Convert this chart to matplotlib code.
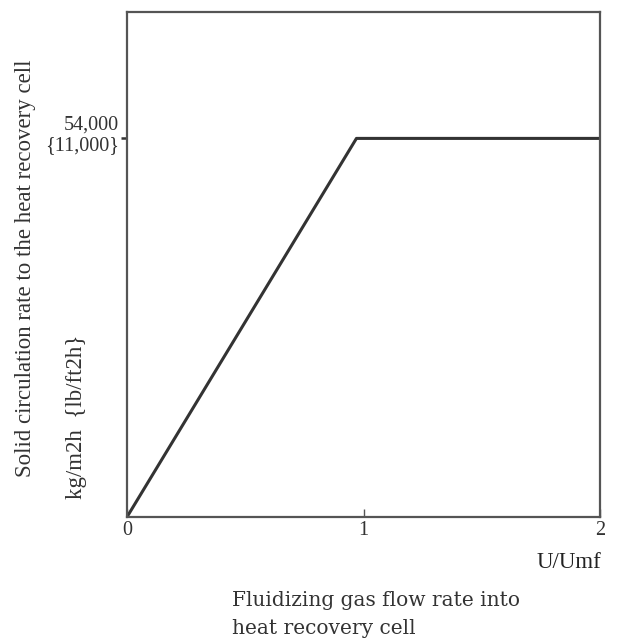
import matplotlib
matplotlib.use("Agg")
import matplotlib.pyplot as plt
from matplotlib.transforms import ScaledTranslation

flow_ratio = [0, 0.97, 2.0]
circulation = [0, 54000, 54000]
x_ticks = [0, 1, 2]
x_tick_labels = ["0", "1", "2"]
y_ticks = [54000]
y_tick_labels = ["54,000\n{11,000}"]

serif = ["Liberation Serif", "DejaVu Serif"]

fig = plt.figure(figsize=(6.35, 6.43), dpi=100)
ax = fig.add_axes([0.2, 0.196, 0.745, 0.785])
ax.plot(flow_ratio, circulation, color="#333333", lw=2.2, solid_capstyle="butt")
ax.set_xlim(0, 2)
ax.set_ylim(0, 72000)
for s in ax.spines.values():
    s.set_color("#555555")
    s.set_linewidth(1.6)

ax.set_xticks(x_ticks)
ax.set_xticklabels(x_tick_labels, family=serif, fontsize=14.5, color="#333333")
ax.tick_params(axis="x", direction="in", length=6, width=1, color="#555555", pad=3)
ax.set_yticks(y_ticks)
ax.set_yticklabels(y_tick_labels, family=serif, fontsize=14.5, color="#333333", linespacing=1.05)
ax.tick_params(axis="y", direction="out", length=4, width=1.8, color="#333333", pad=2)
for lab in ax.get_yticklabels():
    lab.set_transform(lab.get_transform() + ScaledTranslation(0, 0.06, fig.dpi_scale_trans))

fig.text(0.040, 1 - 268 / 643, "Solid circulation rate to the heat recovery cell", rotation=90,
         ha="center", va="center", family=serif, fontsize=16.5, color="#333333")
fig.text(0.121, 1 - 417 / 643, "kg/m2h  {lb/ft2h}", rotation=90,
         ha="center", va="center", family=serif, fontsize=16.5, color="#333333")
fig.text(0.947, 1 - 563 / 643, "U/Umf", ha="right", va="center", family=serif,
         fontsize=16.5, color="#222222")
fig.text(0.366, 1 - 600 / 643, "Fluidizing gas flow rate into", ha="left", va="center",
         family=["DejaVu Serif"], fontsize=14.5, color="#333333")
fig.text(0.366, 1 - 628 / 643, "heat recovery cell", ha="left", va="center",
         family=["DejaVu Serif"], fontsize=14.5, color="#333333")

fig.savefig("out.png", dpi=100)
